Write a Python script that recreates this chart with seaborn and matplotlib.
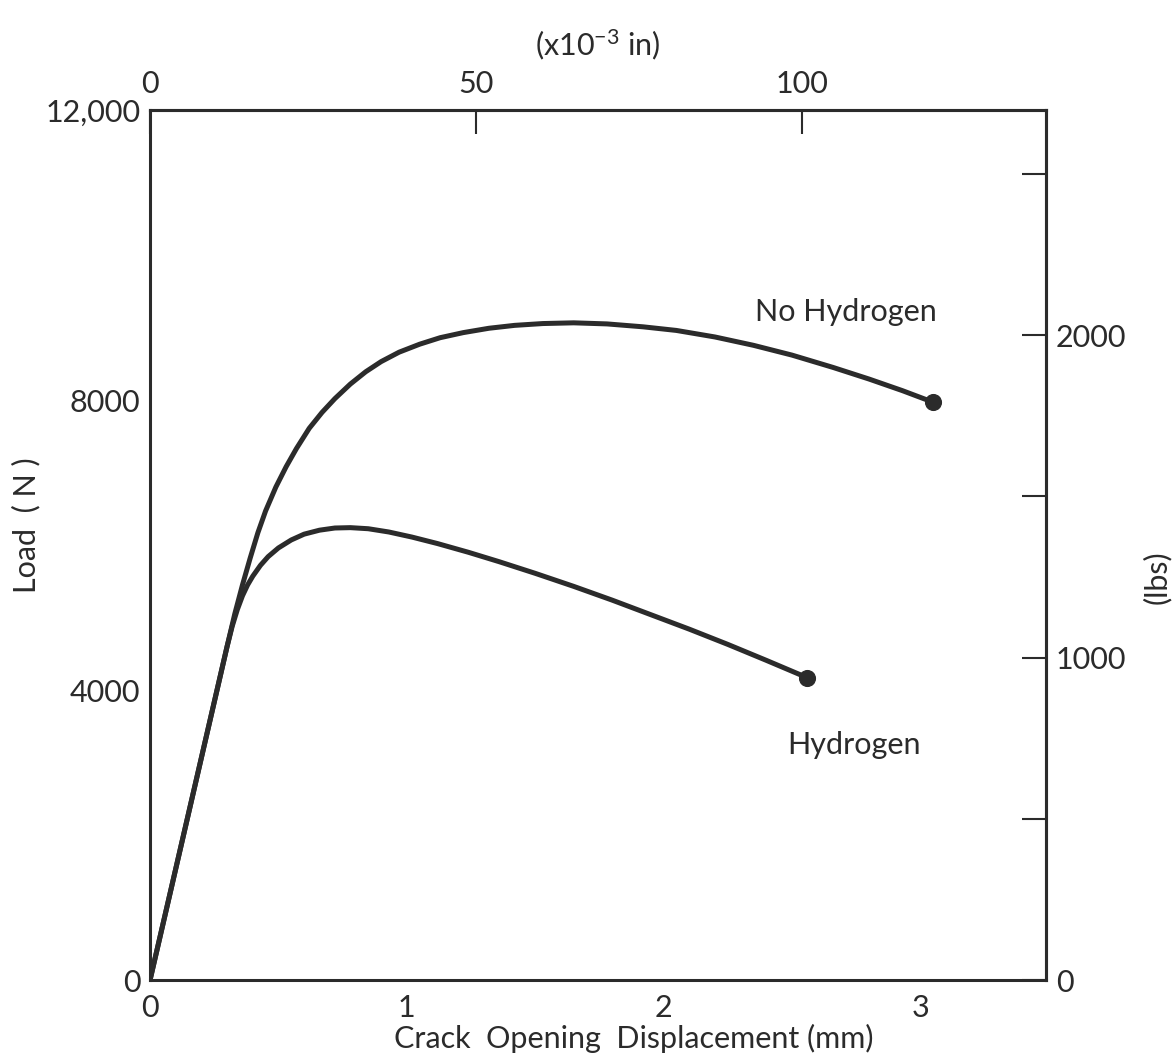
import numpy as np
import pandas as pd
import matplotlib
matplotlib.use('Agg')
import matplotlib.pyplot as plt
import seaborn as sns

# values (mm, N)
no_h2_cod = [0, 0.15, 0.30, 0.33, 0.36, 0.39, 0.42, 0.45, 0.49, 0.53, 0.57, 0.62, 0.67, 0.72,
             0.78, 0.84, 0.90, 0.97, 1.05, 1.13, 1.22, 1.32, 1.42, 1.53, 1.65, 1.78, 1.92,
             2.05, 2.20, 2.35, 2.50, 2.66, 2.80, 2.93, 3.05]
no_h2_load = [0, 2300, 4600, 5050, 5450, 5820, 6170, 6470, 6800, 7080, 7330, 7610, 7830, 8020,
              8220, 8390, 8530, 8660, 8770, 8860, 8930, 8990, 9030, 9055, 9065, 9050, 9010,
              8960, 8870, 8755, 8620, 8450, 8290, 8130, 7970]
h2_cod = [0, 0.15, 0.30, 0.32, 0.34, 0.36, 0.38, 0.40, 0.43, 0.46, 0.50, 0.55, 0.60, 0.66,
          0.72, 0.78, 0.85, 0.93, 1.02, 1.12, 1.24, 1.36, 1.50, 1.65, 1.80, 1.95, 2.10,
          2.25, 2.40, 2.56]
h2_load = [0, 2300, 4600, 4880, 5110, 5300, 5450, 5570, 5720, 5840, 5960, 6070, 6150, 6205,
           6235, 6240, 6225, 6180, 6110, 6020, 5900, 5770, 5610, 5430, 5240, 5040, 4840,
           4630, 4410, 4170]

left_ticks = [0, 2000, 4000, 6000, 8000, 10000, 12000]
left_labels = ['0', '', '4000', '', '8000', '', '12,000']
bottom_ticks = [0, 1, 2, 3]
right_ticks = [0, 500, 1000, 1500, 2000, 2500]
right_labels = ['0', '', '1000', '', '2000', '']
top_ticks = [0, 50, 100]

N_PER_LB = 4.448
MM_PER_MIL = 0.0254

sns.set_style('white')
plt.rcParams['font.family'] = ['Lato', 'DejaVu Sans']
plt.rcParams['mathtext.default'] = 'regular'

ink = '#2b2b2b'
df = pd.concat([
    pd.DataFrame({'cod': no_h2_cod, 'load': no_h2_load, 'case': 'No Hydrogen'}),
    pd.DataFrame({'cod': h2_cod, 'load': h2_load, 'case': 'Hydrogen'}),
])
ends = df.groupby('case', sort=False).tail(1)

fig = plt.figure(figsize=(11.75, 10.57), dpi=100)
ax = fig.add_axes([0.1277, 0.0728, 0.7626, 0.8231])
sns.lineplot(data=df, x='cod', y='load', units='case', estimator=None, sort=False,
             color=ink, linewidth=3.6, ax=ax, legend=False)
ax.lines[0].set_solid_joinstyle('round')
sns.scatterplot(data=ends, x='cod', y='load', color=ink, s=130, edgecolor=ink, ax=ax,
                legend=False, zorder=5)

ax.set_xlim(0, 3.49)
ax.set_ylim(0, 12000)
for s in ax.spines.values():
    s.set_linewidth(2.2)
    s.set_color(ink)

fs = 22
tick_kw = dict(direction='in', length=17, width=1.5, color=ink, labelsize=fs, labelcolor=ink)
ax.set_yticks(left_ticks)
ax.set_yticklabels(left_labels)
ax.set_xticks(bottom_ticks)
ax.tick_params(axis='y', pad=7, **tick_kw)
ax.tick_params(axis='x', pad=10, **tick_kw)

ax.set_xlabel('Crack  Opening  Displacement (mm)', fontsize=fs, color=ink)
ax.xaxis.set_label_coords(0.54, -0.05)
ax.set_ylabel('Load  ( N )', fontsize=fs, color=ink)
ax.yaxis.set_label_coords(-0.122, 0.523)

secy = ax.secondary_yaxis('right', functions=(lambda v: v / N_PER_LB, lambda v: v * N_PER_LB))
secy.set_yticks(right_ticks)
secy.set_yticklabels(right_labels)
secy.tick_params(axis='y', pad=7, **tick_kw)
secy.spines['right'].set_linewidth(2.2)
ax.text(1.124, 0.463, '(lbs)', transform=ax.transAxes, rotation=90, fontsize=fs,
        color=ink, ha='center', va='center')

secx = ax.secondary_xaxis('top', functions=(lambda v: v / MM_PER_MIL, lambda v: v * MM_PER_MIL))
secx.set_xticks(top_ticks)
secx.tick_params(axis='x', pad=9, **tick_kw)
secx.spines['top'].set_linewidth(2.2)
secx.set_xlabel(r'(x10$^{-3}$ in)', fontsize=fs, color=ink, labelpad=10)

ax.text(2.71, 9220, 'No Hydrogen', fontsize=fs, color=ink, ha='center', va='center')
ax.text(2.74, 3240, 'Hydrogen', fontsize=fs, color=ink, ha='center', va='center')

plt.savefig('out.png', dpi=100)
plt.close()
